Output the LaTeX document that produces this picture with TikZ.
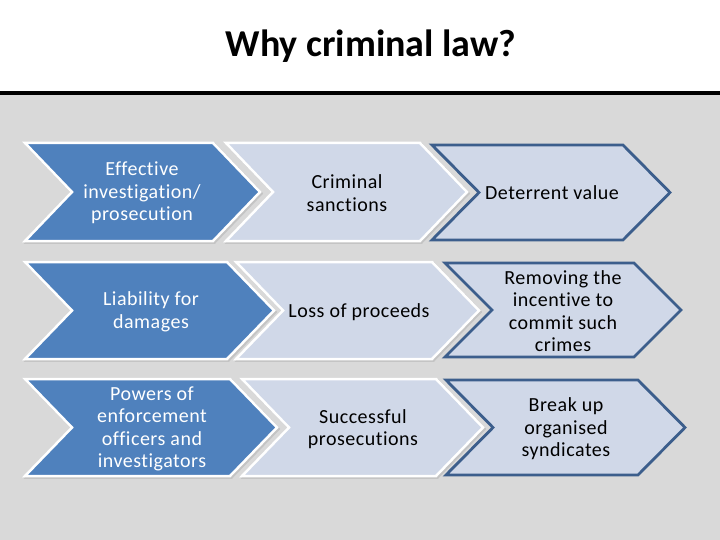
\documentclass[tikz,border=0pt]{standalone}
\usepackage{fontspec}
\setmainfont[LetterSpace=2.5,Ligatures={NoCommon}]{Carlito}
\newfontfamily\titlefont{Carlito}
\definecolor{bgray}{HTML}{D9D9D9}
\definecolor{accblue}{HTML}{4F81BD}
\definecolor{lightfill}{HTML}{D0D8E8}
\definecolor{darkline}{HTML}{3C5E8C}
\definecolor{shadowgray}{HTML}{C4C4C4}
\tikzset{
  bluechev/.style={fill=accblue, draw=white, line width=2.5pt, line join=miter},
  lightchev/.style={fill=lightfill, draw=white, line width=2.5pt, line join=miter},
  darkchev/.style={fill=lightfill, draw=darkline, line width=2.8pt, line join=miter},
  shadowchev/.style={fill=shadowgray, draw=shadowgray, line width=2.5pt, line join=miter},
  wtext/.style={text=white, font=\fontsize{20}{22.5}\selectfont, align=center, inner sep=0pt},
  btext/.style={text=black, font=\fontsize{20}{22.5}\selectfont, align=center, inner sep=0pt},
}
% style, left x, right-top x, top y, bottom y
\newcommand{\chevshape}[5]{%
  \draw[#1] (#2,#4) -- (#3,#4) -- ({#3+47},{(#4+#5)/2}) -- (#3,#5) -- (#2,#5) -- ({#2+47},{(#4+#5)/2}) -- cycle;
}
\begin{document}
\begin{tikzpicture}[x=1pt,y=-1pt]
  \useasboundingbox (0,0) rectangle (720,540);
  \fill[white] (0,0) rectangle (720,540);
  \fill[bgray] (0,93) rectangle (720,540);
  \draw[black, line width=4pt] (0,93) -- (720,93);
  \node[font=\titlefont\fontsize{38}{40}\bfseries\selectfont, anchor=base, inner sep=0pt] (title) at (371,57) {Why criminal law?};

  % shadows
  \begin{scope}[shift={(1.5,1.5)}]
    \chevshape{shadowchev}{25}{213}{143}{241}
    \chevshape{shadowchev}{226}{420}{143}{241}
    \chevshape{shadowchev}{25}{227}{262}{359}
    \chevshape{shadowchev}{236}{432}{262}{359}
    \chevshape{shadowchev}{25}{230}{379}{476}
    \chevshape{shadowchev}{242}{436}{379}{476}
  \end{scope}

  % row 1
  \chevshape{darkchev}{432}{623}{145}{240}
  \chevshape{lightchev}{226}{420}{143}{241}
  \chevshape{bluechev}{25}{213}{143}{241}
  % row 2
  \chevshape{darkchev}{445}{634}{263}{357}
  \chevshape{lightchev}{236}{432}{262}{359}
  \chevshape{bluechev}{25}{227}{262}{359}
  % row 3
  \chevshape{darkchev}{446}{638}{380}{475}
  \chevshape{lightchev}{242}{436}{379}{476}
  \chevshape{bluechev}{25}{230}{379}{476}

  \node[wtext] (t11) at (142,193) {Effective\\investigation/\\prosecution};
  \node[btext] (t12) at (347,193) {Criminal\\sanctions};
  \node[btext] (t13) at (552,193) {Deterrent value};

  \node[wtext] (t21) at (151,312) {Liability for\\damages};
  \node[btext] (t22) at (359,312) {Loss of proceeds};
  \node[btext] (t23) at (563,311) {Removing the\\incentive to\\commit such\\crimes};

  \node[wtext] (t31) at (152,429) {Powers of\\enforcement\\officers and\\investigators};
  \node[btext] (t32) at (363,429) {Successful\\prosecutions};
  \node[btext] (t33) at (566,429) {Break up\\organised\\syndicates};
\end{tikzpicture}
\end{document}
